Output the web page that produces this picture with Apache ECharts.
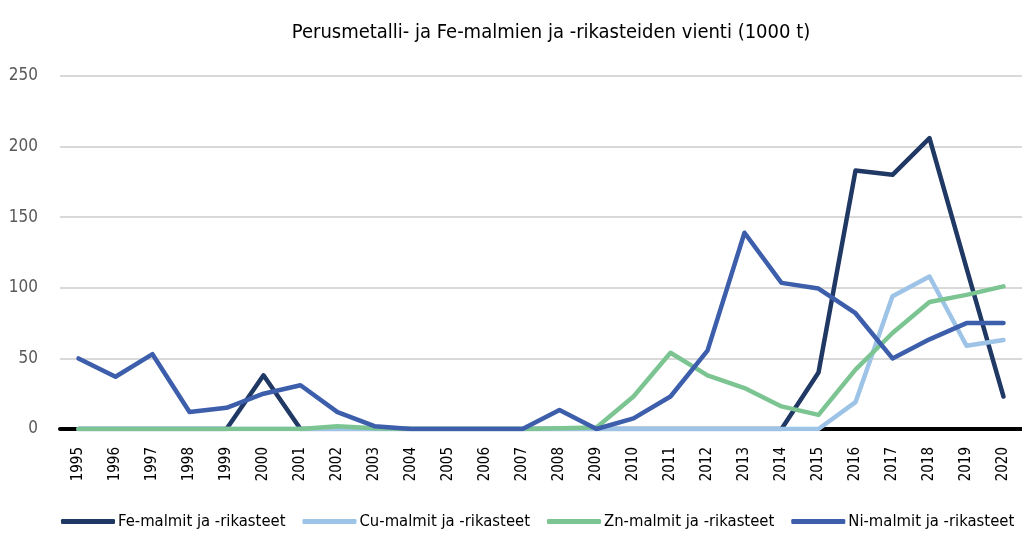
<!DOCTYPE html>
<html>
<head>
<meta charset="utf-8">
<script src="https://cdn.jsdelivr.net/npm/echarts@6/dist/echarts.min.js"></script>
<style>
  html, body { margin: 0; padding: 0; background: #fff; }
  #main { width: 1022px; height: 539px; }
</style>
</head>
<body>
<div id="main"></div>
<script>
// vuodet ja sarjat (1000 t)
const years = ['1995','1996','1997','1998','1999','2000','2001','2002','2003','2004','2005','2006','2007',
  '2008','2009','2010','2011','2012','2013','2014','2015','2016','2017','2018','2019','2020'];
const fe = [0,0,0,0,0,38,0,0,0,0,0,0,0,0,0,0,0,0,0,0,40,183,180,206,114,23];
const cu = [0,0,0,0,0,0,0,0,0,0,0,0,0,0,0,0,0,0,0,0,0,19,94,108,59,63];
const zn = [0,0,0,0,0,0,0,2,0.5,0,0,0,0,0.5,1,23,54,38,29,16,10,42,68,90,95,101];
const ni = [50,37,53,12,15,25,31,12,2,0,0,0,0,13.5,0,7.5,23,55.5,139,103.5,99.5,82,50,63.5,75,75];

const seriesNames = ['Fe-malmit ja -rikasteet','Cu-malmit ja -rikasteet','Zn-malmit ja -rikasteet','Ni-malmit ja -rikasteet'];
const colors = ['#203864','#9dc3e6','#7cc593','#3c5eab'];

const FONT = "'DejaVu Sans Condensed', 'Liberation Sans Narrow', sans-serif";

let myChart = echarts.init(document.getElementById('main'));

function mkSeries(i, data) {
  return {
    name: seriesNames[i],
    type: 'line',
    data: data,
    showSymbol: false,
    symbol: 'none',
    lineStyle: { width: 4.5, color: colors[i], cap: 'round', join: 'round' },
    itemStyle: { color: colors[i] },
    animation: false
  };
}

let option = {
  animation: false,
  title: {
    text: 'Perusmetalli- ja Fe-malmien ja -rikasteiden vienti (1000 t)',
    left: 546,
    textAlign: 'center',
    top: 18,
    textStyle: { fontFamily: FONT, fontSize: 20, fontWeight: 'normal', color: '#000' }
  },
  legend: {
    bottom: 4,
    left: 56,
    itemWidth: 54,
    itemHeight: 5,
    itemGap: 17,
    icon: 'roundRect',
    textStyle: { fontFamily: FONT, fontSize: 16.5, color: '#000', padding: [0, 0, 0, -2] },
    data: seriesNames
  },
  grid: { left: 60, right: 0, top: 76, bottom: 110, containLabel: false },
  xAxis: {
    type: 'category',
    data: years,
    boundaryGap: true,
    axisLine: { lineStyle: { color: '#000', width: 4 } },
    axisTick: { show: false },
    axisLabel: {
      rotate: 90,
      interval: 0,
      margin: 18,
      fontFamily: FONT,
      fontSize: 15,
      color: '#000'
    }
  },
  yAxis: {
    type: 'value',
    min: 0,
    max: 250,
    interval: 50,
    axisLine: { show: false },
    axisTick: { show: false },
    splitLine: { lineStyle: { color: '#d9d9d9', width: 2 } },
    axisLabel: { fontFamily: FONT, fontSize: 17, color: '#595959', margin: 22 }
  },
  series: [mkSeries(0, fe), mkSeries(1, cu), mkSeries(2, zn), mkSeries(3, ni)]
};

myChart.setOption(option);
</script>
</body>
</html>
